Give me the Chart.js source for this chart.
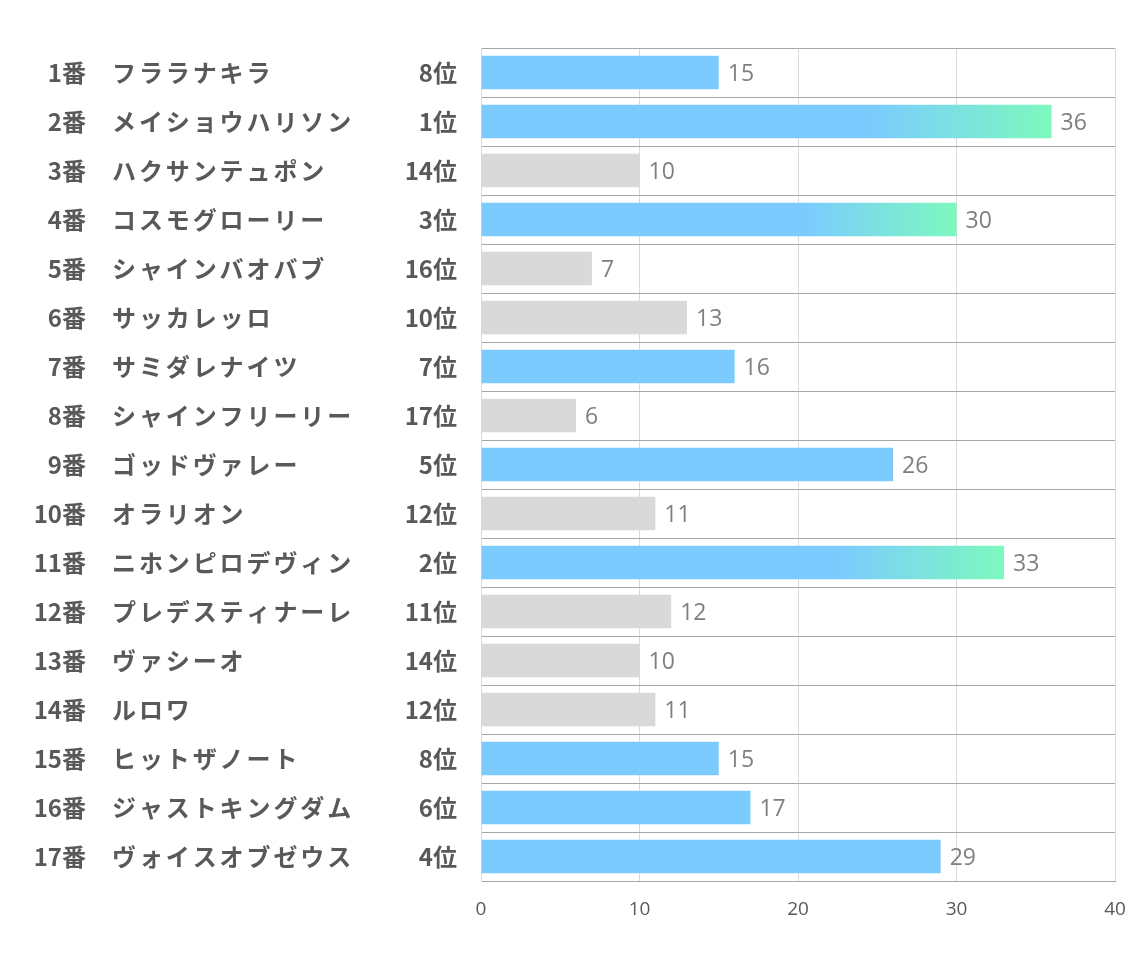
<!DOCTYPE html>
<html>
<head>
<meta charset="utf-8">
<script src="https://cdn.jsdelivr.net/npm/chart.js@4"></script>
<style>
  html, body { margin: 0; background: #fff; }
  #wrap { width: 1134px; height: 964px; }
</style>
</head>
<body>
<div id="wrap"><canvas id="chart"></canvas></div>
<script>
// Data
const numbers = ["1番", "2番", "3番", "4番", "5番", "6番", "7番", "8番", "9番", "10番", "11番", "12番", "13番", "14番", "15番", "16番", "17番"];
const horses = ["フララナキラ", "メイショウハリソン", "ハクサンテュポン", "コスモグローリー", "シャインバオバブ", "サッカレッロ", "サミダレナイツ", "シャインフリーリー", "ゴッドヴァレー", "オラリオン", "ニホンピロデヴィン", "プレデスティナーレ", "ヴァシーオ", "ルロワ", "ヒットザノート", "ジャストキングダム", "ヴォイスオブゼウス"];
const ranks = [8, 1, 14, 3, 16, 10, 7, 17, 5, 12, 2, 11, 14, 12, 8, 6, 4];
const points = [15, 36, 10, 30, 7, 13, 16, 6, 26, 11, 33, 12, 10, 11, 15, 17, 29];
const xTicks = [0, 10, 20, 30, 40];

const BLUE = "#7bcbff";
const GREEN = "#7df9be";
const GRAY = "#d9d9d9";
const TEXT = "#595959";

// bar colour: top 3 gradient, top 8 blue, rest gray
function barColor(c) {
  const i = c.dataIndex;
  const r = ranks[i];
  if (r > 8) return GRAY;
  if (r > 3) return BLUE;
  const x = c.chart.scales.x;
  if (!c.chart.chartArea || !x) return BLUE;
  const x0 = x.getPixelForValue(0);
  const x1 = x.getPixelForValue(points[i]);
  const g = c.chart.ctx.createLinearGradient(x0, 0, x1, 0);
  g.addColorStop(0, BLUE);
  g.addColorStop(0.68, BLUE);
  g.addColorStop(1, GREEN);
  return g;
}

// number / name columns and value labels
const sideLabels = {
  id: "sideLabels",
  afterDatasetsDraw(chart) {
    const { ctx, scales: { x, y } } = chart;
    ctx.save();
    ctx.textBaseline = "middle";
    numbers.forEach((n, i) => {
      const py = y.getPixelForTick(i);
      ctx.fillStyle = TEXT;
      ctx.font = "bold 24px 'Noto Sans CJK JP'";
      ctx.letterSpacing = "0px";
      ctx.textAlign = "right";
      ctx.fillText(n, 86, py);
      ctx.textAlign = "left";
      ctx.letterSpacing = "2.9px";
      ctx.fillText(horses[i], 112, py);
      ctx.letterSpacing = "0px";
      ctx.font = "23px 'Open Sans'";
      ctx.fillStyle = "#7f7f7f";
      ctx.fillText(String(points[i]), x.getPixelForValue(points[i]) + 9, py + 2);
    });
    ctx.restore();
  }
};

new Chart(document.getElementById("chart"), {
  type: "bar",
  data: {
    labels: numbers,
    datasets: [{
      data: points,
      backgroundColor: barColor,
      barPercentage: 0.68,
      categoryPercentage: 1,
    }],
  },
  options: {
    indexAxis: "y",
    responsive: true,
    maintainAspectRatio: false,
    animation: false,
    layout: { padding: { top: 48, right: 19, bottom: 0, left: 0 } },
    plugins: {
      legend: { display: false },
      tooltip: { enabled: false },
    },
    scales: {
      x: {
        min: 0,
        max: 40,
        afterBuildTicks: s => { s.ticks = xTicks.map(v => ({ value: v })); },
        afterFit: s => { s.height = 83; s.paddingLeft = 0; s.paddingRight = 0; },
        ticks: {
          padding: 17,
          color: TEXT,
          font: { family: "'Open Sans'", size: 19 },
        },
        grid: { color: GRAY, drawTicks: false },
        border: { color: "#a6a6a6" },
      },
      y: {
        afterFit: s => { s.width = 481; },
        ticks: {
          padding: 24,
          color: TEXT,
          font: { family: "'Noto Sans CJK JP'", size: 24, weight: "bold" },
          callback: (v, i) => ranks[i] + "位",
        },
        grid: { color: "#a6a6a6", drawTicks: false, offset: true },
        border: { color: GRAY },
      },
    },
  },
  plugins: [sideLabels],
});
</script>
</body>
</html>
